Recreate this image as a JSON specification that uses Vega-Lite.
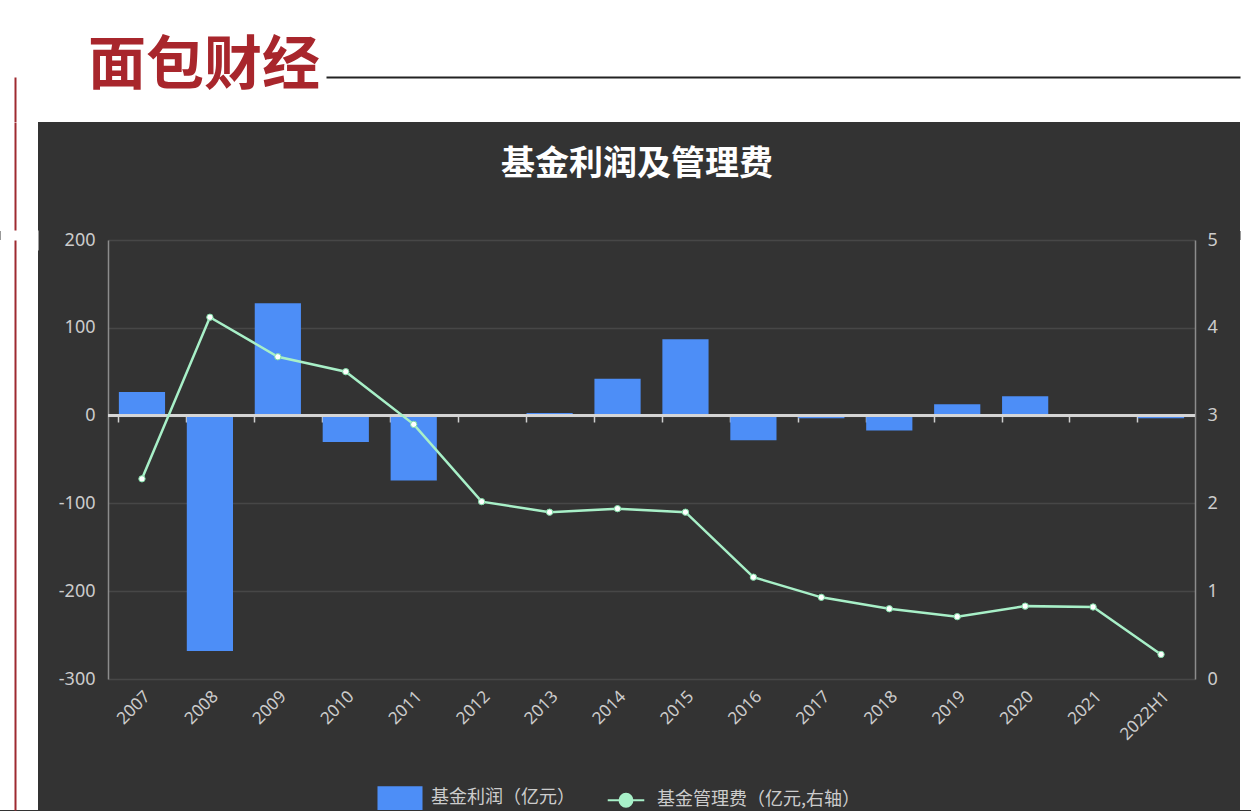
{
  "$schema": "https://vega.github.io/schema/vega-lite/v6.json",
  "background": "#333333",
  "padding": 0,
  "spacing": 0,
  "config": {
    "view": {"stroke": null},
    "font": "Noto Sans CJK SC",
    "concat": {"spacing": 0}
  },
  "vconcat": [
    {
      "width": 1251,
      "height": 122,
      "view": {"fill": "#ffffff", "stroke": null},
      "title": {
        "text": "面包财经",
        "orient": "bottom",
        "anchor": "start",
        "offset": -84,
        "dx": 88,
        "fontSize": 58,
        "fontWeight": "bold",
        "color": "#a8262c",
        "font": "Noto Sans CJK SC"
      },
      "data": {"values": []},
      "mark": "rect",
      "encoding": {
        "x": {
          "datum": 0,
          "type": "quantitative",
          "scale": {"range": [326, 1240]},
          "axis": {"orient": "bottom", "offset": -45, "domainColor": "#222222", "domainWidth": 2, "ticks": false, "labels": false, "grid": false, "title": null}
        },
        "y": {
          "datum": 0,
          "type": "quantitative",
          "scale": {"range": [122, 77]},
          "axis": {"orient": "left", "offset": -15, "domainColor": "#9e2a30", "domainWidth": 2, "ticks": false, "labels": false, "grid": false, "title": null}
        }
      }
    },
    {
      "spacing": 0,
      "hconcat": [
        {
          "width": 38,
          "height": 109,
          "view": {"fill": "#ffffff", "stroke": null},
          "data": {"values": []},
          "mark": "rect",
          "encoding": {
            "y": {
              "datum": 0,
              "type": "quantitative",
              "axis": {"orient": "left", "offset": -15, "domainColor": "#9e2a30", "domainWidth": 2, "ticks": false, "labels": false, "grid": false, "title": null}
            }
          }
        },
        {
          "width": 1202,
          "height": 109,
          "view": {"stroke": null},
          "title": {
            "text": "基金利润及管理费",
            "orient": "bottom",
            "anchor": "middle",
            "offset": -83,
            "dx": -2,
            "fontSize": 34,
            "fontWeight": "bold",
            "color": "#ffffff",
            "font": "Noto Sans CJK SC"
          },
          "data": {"values": []},
          "mark": "rect",
          "encoding": {}
        },
        {
          "width": 11,
          "height": 109,
          "view": {"fill": "#ffffff", "stroke": null},
          "data": {"values": []},
          "mark": "rect",
          "encoding": {}
        }
      ]
    },
    {
      "spacing": 0,
      "hconcat": [
        {
          "width": 38,
          "height": 570,
          "view": {"fill": "#ffffff", "stroke": null},
          "data": {"values": []},
          "mark": "rect",
          "encoding": {
            "x": {
              "datum": 0,
              "type": "quantitative",
              "axis": {"orient": "top", "domainColor": "#ffffff", "domainWidth": 20, "ticks": false, "labels": false, "grid": false, "title": null}
            },
            "y": {
              "datum": 0,
              "type": "quantitative",
              "axis": {"orient": "left", "offset": -15, "domainColor": "#9e2a30", "domainWidth": 2, "ticks": false, "labels": false, "grid": false, "title": null, "zindex": 1}
            }
          }
        },
        {
          "width": 1087,
          "height": 439,
          "data": {
            "values": [
              {"year": "2007", "profit": 27, "fee": 2.28},
              {"year": "2008", "profit": -268, "fee": 4.12},
              {"year": "2009", "profit": 128, "fee": 3.67},
              {"year": "2010", "profit": -30, "fee": 3.5},
              {"year": "2011", "profit": -74, "fee": 2.9},
              {"year": "2012", "profit": -1, "fee": 2.02},
              {"year": "2013", "profit": 3, "fee": 1.9},
              {"year": "2014", "profit": 42, "fee": 1.94},
              {"year": "2015", "profit": 87, "fee": 1.9},
              {"year": "2016", "profit": -28, "fee": 1.16},
              {"year": "2017", "profit": -3, "fee": 0.93},
              {"year": "2018", "profit": -17, "fee": 0.8},
              {"year": "2019", "profit": 13, "fee": 0.71},
              {"year": "2020", "profit": 22, "fee": 0.83},
              {"year": "2021", "profit": 0, "fee": 0.82},
              {"year": "2022H1", "profit": -3, "fee": 0.28}
            ]
          },
          "layer": [
            {
              "encoding": {
                "x": {
                  "field": "year",
                  "type": "ordinal",
                  "sort": null,
                  "scale": {"paddingInner": 0.32, "paddingOuter": 0.16},
                  "axis": {
                    "title": null,
                    "labelAngle": -45,
                    "domain": false,
                    "ticks": false,
                    "grid": false,
                    "labelColor": "#cccccc",
                    "labelFontSize": 17,
                    "labelFont": "Noto Sans",
                    "labelPadding": 9
                  }
                },
                "y": {
                  "field": "profit",
                  "type": "quantitative",
                  "scale": {"domain": [-300, 200], "nice": false},
                  "axis": {
                    "title": null,
                    "values": [-300, -200, -100, 0, 100, 200],
                    "labelExpr": "'' + datum.value",
                    "grid": true,
                    "gridColor": "#474747",
                    "gridWidth": 1.5,
                    "domainColor": "#8c8c8c",
                    "domainWidth": 1.5,
                    "ticks": false,
                    "labelColor": "#cccccc",
                    "labelFontSize": 18,
                    "labelFont": "Noto Sans",
                    "labelPadding": 13,
                    "minExtent": 70,
                    "maxExtent": 70
                  }
                }
              },
              "layer": [
                {
                  "mark": {"type": "bar"},
                  "encoding": {
                    "color": {
                      "datum": "基金利润（亿元）",
                      "scale": {
                        "domain": ["基金利润（亿元）", "基金管理费（亿元,右轴）"],
                        "range": ["#4d8ef7", "#a8f0c8"]
                      },
                      "legend": {
                        "title": null,
                        "orient": "none",
                        "direction": "horizontal",
                        "legendX": 377,
                        "legendY": 775,
                        "labelColor": "#cccccc",
                        "labelFontSize": 18,
                        "labelLimit": 0,
                        "labelFont": "Noto Sans CJK SC",
                        "labelOffset": 8,
                        "columnPadding": 28,
                        "symbolSize": 1850,
                        "symbolStrokeWidth": 2,
                        "encode": {
                          "symbols": {
                            "update": {
                              "shape": {"signal": "datum.value === '基金利润（亿元）' ? 'M-1,-0.5H1V0.5H-1Z' : 'M-0.85,0H-0.3M0.3,0H0.85M0.3,0A0.3,0.3 0 1,1 -0.3,0A0.3,0.3 0 1,1 0.3,0'"},
                              "fill": {"signal": "datum.value === '基金利润（亿元）' ? '#4d8ef7' : '#a8f0c8'"},
                              "stroke": {"signal": "datum.value === '基金利润（亿元）' ? '#4d8ef7' : '#a8f0c8'"},
                              "strokeWidth": {"value": 2}
                            }
                          }
                        }
                      }
                    }
                  }
                },
                {
                  "mark": {"type": "rule", "color": "#d6d6d6", "strokeWidth": 1.5},
                  "encoding": {"y": {"datum": 0}, "x": null}
                }
              ]
            },
            {
              "mark": {
                "type": "line",
                "strokeWidth": 2.5,
                "color": "#b4f2cf",
                "point": {"filled": true, "fill": "#ffffff", "stroke": "#7fdca6", "strokeWidth": 1, "size": 40}
              },
              "encoding": {
                "x": {
                  "field": "year",
                  "type": "ordinal",
                  "sort": null,
                  "axis": {
                    "title": null,
                    "orient": "bottom",
                    "offset": -263,
                    "labels": false,
                    "domain": false,
                    "ticks": true,
                    "tickColor": "#cfcfcf",
                    "tickSize": 6,
                    "tickWidth": 1.5,
                    "bandPosition": 0,
                    "grid": false
                  }
                },
                "y": {
                  "field": "fee",
                  "type": "quantitative",
                  "scale": {"domain": [0, 5], "nice": false},
                  "axis": {
                    "title": null,
                    "orient": "right",
                    "values": [0, 1, 2, 3, 4, 5],
                    "grid": false,
                    "domainColor": "#8c8c8c",
                    "domainWidth": 1.5,
                    "ticks": false,
                    "labelColor": "#cccccc",
                    "labelFontSize": 18,
                    "labelFont": "Noto Sans",
                    "labelPadding": 12,
                    "minExtent": 45,
                    "maxExtent": 45
                  }
                },
                "color": {"datum": "基金管理费（亿元,右轴）"}
              }
            }
          ],
          "resolve": {"scale": {"y": "independent"}, "axis": {"x": "independent"}}
        },
        {
          "width": 11,
          "height": 570,
          "view": {"fill": "#ffffff", "stroke": null},
          "data": {"values": []},
          "mark": "rect",
          "encoding": {
            "x": {
              "datum": 0,
              "type": "quantitative",
              "axis": {"orient": "top", "domainColor": "#ffffff", "domainWidth": 20, "ticks": false, "labels": false, "grid": false, "title": null}
            }
          }
        }
      ]
    }
  ]
}
